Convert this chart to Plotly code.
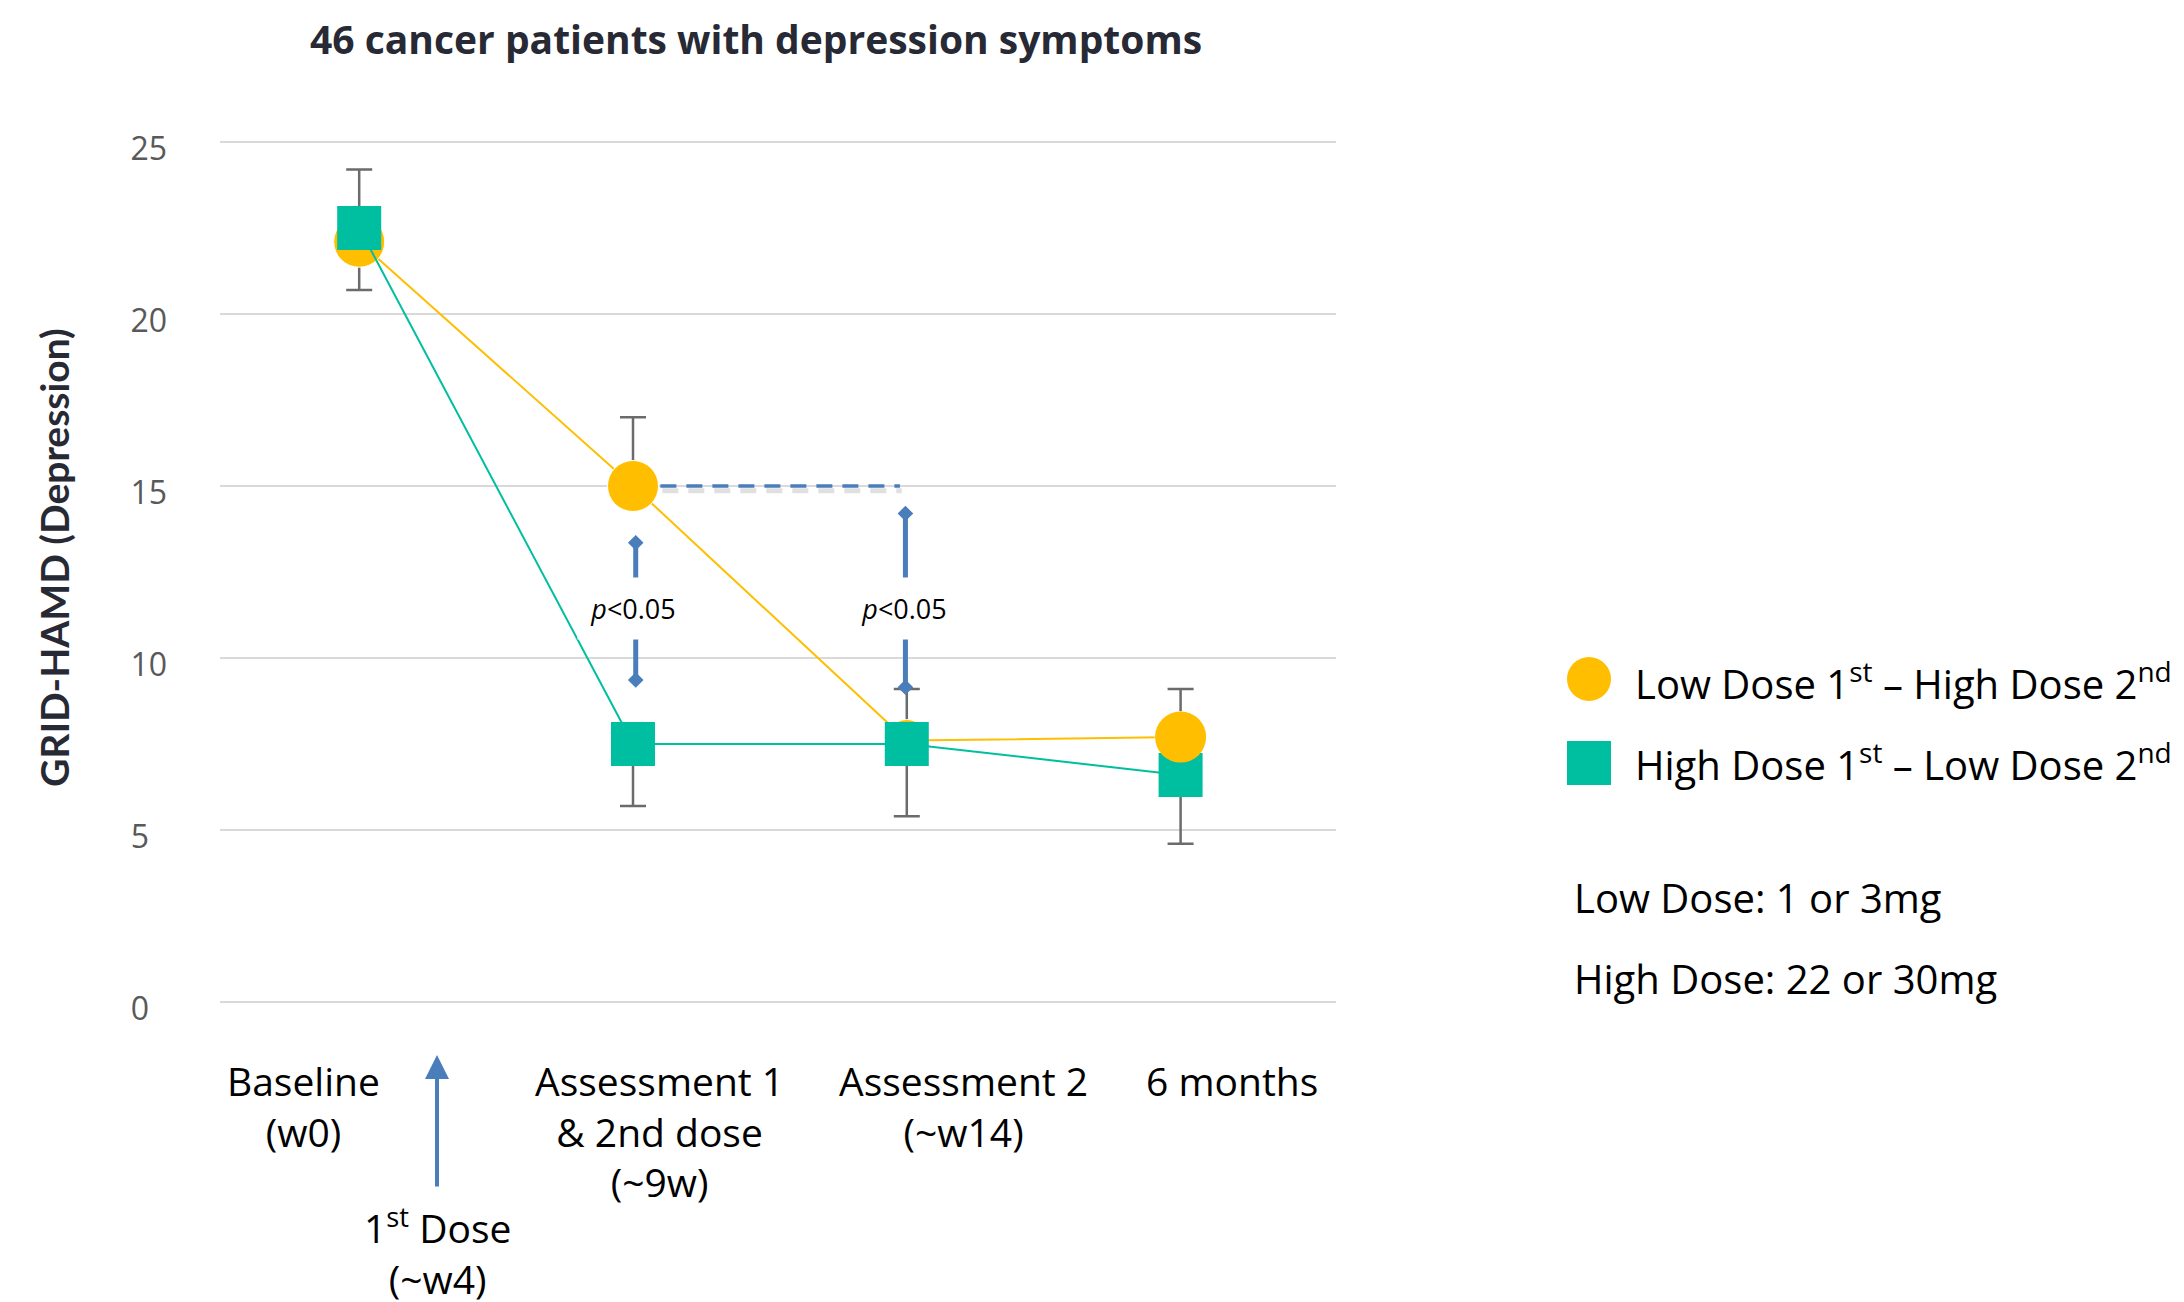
import plotly.graph_objects as go

# ---- data ----
categories = ["Baseline", "Assessment 1", "Assessment 2", "6 months"]
tick_labels = [
    "Baseline<br>(w0)",
    "Assessment 1<br>&amp; 2nd dose<br>(~9w)",
    "Assessment 2<br>(~w14)",
    "6 months",
]
low_first_mean = [22.1, 15.0, 7.6, 7.7]
low_first_err_up = [2.1, 2.0, 1.5, 1.4]
high_first_mean = [22.5, 7.5, 7.5, 6.6]
high_first_err_down = [1.8, 1.8, 2.1, 2.0]
y_ticks_two_digit = [10, 15, 20, 25]
y_ticks_one_digit = [0, 5]

series_names = [
    "Low Dose 1<sup>st</sup> \u2013 High Dose 2<sup>nd</sup>",
    "High Dose 1<sup>st</sup> \u2013 Low Dose 2<sup>nd</sup>",
]
dose_notes = ["Low Dose: 1 or 3mg", "High Dose: 22 or 30mg"]
sig_label = "<i>p</i>&lt;0.05"

# ---- styling ----
ORANGE = "#FFBE00"
TEAL = "#00BFA0"
BLUE = "#4A7EBB"
ERR = "#6B6B6B"
FONT = "Open Sans"

W, H = 2184, 1302
L, R, T, B = 220, 1336, 141, 1003  # plot area in pixels
Y_RANGE = [-0.03, 25.03]


def fx(px):
    return (px - L) / (R - L)


def fy(py):
    return (B - py) / (B - T)


x = list(range(len(categories)))

fig = go.Figure()

# error bars underneath all markers
fig.add_trace(go.Scatter(
    x=x, y=low_first_mean, mode="markers",
    marker=dict(size=1, color="rgba(0,0,0,0)"),
    error_y=dict(type="data", symmetric=False, array=low_first_err_up,
                 arrayminus=[0] * len(x), color=ERR, thickness=2.5, width=13),
    hoverinfo="skip", showlegend=False, cliponaxis=False))
fig.add_trace(go.Scatter(
    x=x, y=high_first_mean, mode="markers",
    marker=dict(size=1, color="rgba(0,0,0,0)"),
    error_y=dict(type="data", symmetric=False, array=[0] * len(x),
                 arrayminus=high_first_err_down, color=ERR, thickness=2.5, width=13),
    hoverinfo="skip", showlegend=False, cliponaxis=False))

# series
fig.add_trace(go.Scatter(
    x=x, y=low_first_mean, mode="lines+markers", name=series_names[0],
    line=dict(color=ORANGE, width=2),
    marker=dict(symbol="circle", size=[51, 51, 42, 51], color=ORANGE, opacity=1),
    cliponaxis=False))
fig.add_trace(go.Scatter(
    x=x, y=high_first_mean, mode="lines+markers", name=series_names[1],
    line=dict(color=TEAL, width=2),
    marker=dict(symbol="square", size=44, color=TEAL, opacity=1),
    cliponaxis=False))
# final low-first point sits on top of the square
fig.add_trace(go.Scatter(
    x=x[-1:], y=low_first_mean[-1:], mode="markers",
    marker=dict(symbol="circle", size=51, color=ORANGE, opacity=1),
    showlegend=False, cliponaxis=False))

# significance arrows (diamond-ended), interrupted by the p-value label
sig_arrows = [(1.01, 13.35, 9.36), (1.995, 14.2, 9.15)]
for xc, y_top, y_bot in sig_arrows:
    fig.add_trace(go.Scatter(
        x=[xc, xc], y=[y_top, y_bot], mode="lines+markers",
        line=dict(color=BLUE, width=5),
        marker=dict(symbol="diamond", size=12, color=BLUE),
        hoverinfo="skip", showlegend=False, cliponaxis=False))

# invisible carrier for the single-digit tick labels on the second y axis
fig.add_trace(go.Scatter(x=[x[0]], y=[y_ticks_one_digit[0]], yaxis="y2", mode="markers",
                         marker=dict(size=1, color="rgba(0,0,0,0)"),
                         hoverinfo="skip", showlegend=False))

shapes = []
# dashed reference line from the Assessment 1 low-first mean
ref_y = low_first_mean[1]
shapes.append(dict(type="line", xref="x", yref="y", x0=1.107, x1=1.982,
                   y0=ref_y - 0.14, y1=ref_y - 0.14,
                   line=dict(color="rgba(0,0,0,0.12)", width=5, dash="16px,10px")))
shapes.append(dict(type="line", xref="x", yref="y", x0=1.1, x1=1.975,
                   y0=ref_y, y1=ref_y,
                   line=dict(color=BLUE, width=3.5, dash="16px,10px")))

# legend symbols
shapes.append(dict(type="circle", xref="paper", yref="paper",
                   xsizemode="pixel", ysizemode="pixel",
                   xanchor=fx(1589), yanchor=fy(679),
                   x0=-22, x1=22, y0=-22, y1=22,
                   fillcolor=ORANGE, line=dict(width=0)))
shapes.append(dict(type="rect", xref="paper", yref="paper",
                   xsizemode="pixel", ysizemode="pixel",
                   xanchor=fx(1589), yanchor=fy(763),
                   x0=-22, x1=22, y0=-22, y1=22,
                   fillcolor=TEAL, line=dict(width=0)))

annotations = []

# title
annotations.append(dict(
    xref="paper", yref="paper", x=fx(756), y=fy(38), xanchor="center", yanchor="middle",
    text="<b>46 cancer patients with depression symptoms</b>", showarrow=False,
    font=dict(family=FONT, size=39, color="#272A35")))

# y-axis title
annotations.append(dict(
    xref="paper", yref="paper", x=fx(54), y=fy(558), xanchor="center", yanchor="middle",
    text="<b>GRID-HAMD (Depression)</b>", textangle=-90, showarrow=False,
    font=dict(family="Lato", size=39, color="#272A35", weight=900)))

# category labels under the axis
label_centers = [303, 659, 963, 1232]
for lab, cx in zip(tick_labels, label_centers):
    annotations.append(dict(
        xref="paper", yref="paper", x=fx(cx), y=fy(1052), xanchor="center", yanchor="top",
        text=lab, showarrow=False, align="center",
        font=dict(family=FONT, size=39, color="#000000")))

# first dose marker
annotations.append(dict(
    xref="paper", yref="paper", x=fx(437), y=fy(1055), ax=0, ay=133,
    text="", showarrow=True, arrowhead=2, arrowsize=1.2, arrowwidth=4,
    arrowcolor=BLUE, standoff=0))
annotations.append(dict(
    xref="paper", yref="paper", x=fx(437), y=fy(1196), xanchor="center", yanchor="top",
    text="1<sup>st</sup> Dose<br>(~w4)", showarrow=False, align="center",
    font=dict(family=FONT, size=39, color="#000000")))

# p-value labels
for xc in (1.0, 1.99):
    annotations.append(dict(
        xref="x", yref="y", x=xc, y=11.44, xanchor="center", yanchor="middle",
        text=sig_label, showarrow=False, bgcolor="#FFFFFF", width=108, height=59,
        font=dict(family=FONT, size=27, color="#000000")))

# legend text
for name, cy in zip(series_names, (682, 762)):
    annotations.append(dict(
        xref="paper", yref="paper", x=fx(1633), y=fy(cy), xanchor="left", yanchor="middle",
        text=name, showarrow=False,
        font=dict(family=FONT, size=40, color="#000000")))
for note, cy in zip(dose_notes, (897, 978)):
    annotations.append(dict(
        xref="paper", yref="paper", x=fx(1572), y=fy(cy), xanchor="left", yanchor="middle",
        text=note, showarrow=False,
        font=dict(family=FONT, size=40, color="#000000")))

tick_font = dict(family=FONT, size=32, color="#595959")
fig.update_layout(
    width=W, height=H,
    margin=dict(l=L, r=W - R, t=T, b=H - B, pad=0),
    paper_bgcolor="#FFFFFF", plot_bgcolor="#FFFFFF",
    showlegend=False,
    shapes=shapes, annotations=annotations,
    xaxis=dict(range=[-0.5084, 3.5676], visible=False, fixedrange=True),
    yaxis=dict(range=Y_RANGE, tickvals=y_ticks_one_digit + y_ticks_two_digit,
               ticktext=[""] * len(y_ticks_one_digit) + [str(v) for v in y_ticks_two_digit],
               showgrid=True, gridcolor="#D9D9D9", gridwidth=2,
               zeroline=False, showline=False,
               ticks="", ticklabelstandoff=52, ticklabelshift=7, tickfont=tick_font),
    yaxis2=dict(range=Y_RANGE, overlaying="y", side="left", anchor="x",
                tickvals=y_ticks_one_digit, showgrid=False, zeroline=False,
                showline=False, ticks="", ticklabelstandoff=70, ticklabelshift=7,
                tickfont=tick_font),
)

fig.write_html("out.html")
